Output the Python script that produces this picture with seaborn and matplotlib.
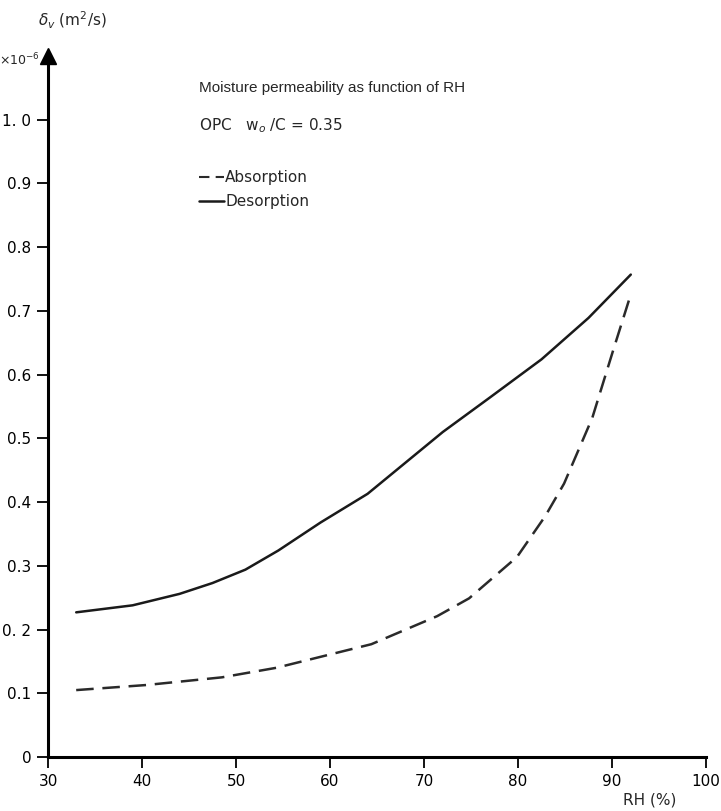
import numpy as np
import pandas as pd
import matplotlib
matplotlib.use("Agg")
import matplotlib.pyplot as plt
import seaborn as sns

# values (delta_v in 1e-6 m2/s)
rh_desorption = [33, 39, 44, 47.5, 51, 54.5, 59, 64, 72, 77, 82.5, 87.5, 92]
dv_desorption = [0.227, 0.238, 0.256, 0.273, 0.294, 0.324, 0.368, 0.413,
                 0.510, 0.564, 0.624, 0.689, 0.757]

rh_absorption = [33, 40.5, 48.5, 54.3, 64.4, 71.4, 74.8, 79.9, 82.9, 84.9,
                 87.9, 90.1, 92]
dv_absorption = [0.105, 0.113, 0.125, 0.140, 0.177, 0.221, 0.249, 0.314, 0.378,
                 0.429, 0.532, 0.637, 0.726]

x_ticks = [30, 40, 50, 60, 70, 80, 90, 100]
y_ticks = [0, 0.1, 0.2, 0.3, 0.4, 0.5, 0.6, 0.7, 0.8, 0.9, 1.0]
y_ticklabels = ["0", "0.1", "0. 2", "0.3", "0.4", "0.5", "0.6", "0.7", "0.8", "0.9", "1. 0"]

df = pd.concat([
    pd.DataFrame({"RH": rh_absorption, "dv": dv_absorption, "curve": "Absorption"}),
    pd.DataFrame({"RH": rh_desorption, "dv": dv_desorption, "curve": "Desorption"}),
], ignore_index=True)

sns.set_theme(style="ticks")
plt.rcParams["font.family"] = ["DejaVu Sans"]

W, H = 721, 811
fig = plt.figure(figsize=(W / 100, H / 100), dpi=100)
# origin at (48, 757) px, x=100 at ~706 px, y=1.1 at 56 px
ax = fig.add_axes([48 / W, (H - 757) / H, (706 - 48) / W, (757 - 56) / H])

sns.lineplot(data=df, x="RH", y="dv", hue="curve", style="curve",
             palette={"Absorption": "#2a2a2a", "Desorption": "#1a1a1a"},
             dashes={"Absorption": (7, 3.5), "Desorption": ""},
             sort=False, linewidth=1.8, ax=ax, legend=False)

ax.set_xlim(30, 100)
ax.set_ylim(0, 1.1)
ax.set_xticks(x_ticks)
ax.set_xticklabels([str(t) for t in x_ticks])
ax.set_yticks(y_ticks)
ax.set_yticklabels(y_ticklabels)
ax.tick_params(direction="out", length=8, width=1.3, colors="black",
               labelsize=11, pad=4)
ax.set_xlabel("")
ax.set_ylabel("")
sns.despine(ax=ax)
for s in ["left", "bottom"]:
    ax.spines[s].set_linewidth(2.2)
    ax.spines[s].set_color("black")

# arrow head on the y axis
ax.plot(0, 1, marker="^", color="black", markersize=11,
        transform=ax.transAxes, clip_on=False)

# axis annotations
fig.text(38 / W, 1 - 20 / H, r"$\delta_v$ (m$^2$/s)", fontsize=11, va="center", ha="left")
fig.text(40 / W, 1 - 60 / H, r"$\times10^{-6}$", fontsize=9, va="center", ha="right")
fig.text(650 / W, 1 - 800 / H, "RH (%)", fontsize=11, va="center", ha="center")

ax.text(0.23, 0.954, "Moisture permeability as function of RH",
        transform=ax.transAxes, fontsize=11, family="Liberation Sans",
        va="center", ha="left")
ax.text(0.23, 0.90, r"OPC   w$_o$ /C = 0.35",
        transform=ax.transAxes, fontsize=11, va="center", ha="left")

# legend
h_abs, = ax.plot([], [], color="#2a2a2a", lw=1.5, dashes=(5, 3))
h_des, = ax.plot([], [], color="#1a1a1a", lw=1.8)
ax.legend([h_abs, h_des], ["Absorption", "Desorption"], loc="upper left",
          bbox_to_anchor=(0.218, 0.848), frameon=False, fontsize=11,
          handlelength=1.6, handletextpad=0.1, labelspacing=0.6, borderpad=0)

fig.savefig("out.png", dpi=100)
